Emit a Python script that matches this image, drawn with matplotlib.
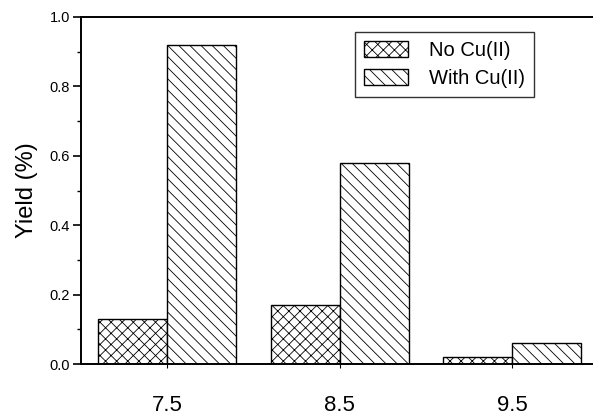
import matplotlib.pyplot as plt
from matplotlib.ticker import MultipleLocator

# yield at each pH, with and without copper
ph = [7.5, 8.5, 9.5]
no_cu = [0.13, 0.17, 0.02]
with_cu = [0.92, 0.58, 0.06]
labels = ['No Cu(II)', 'With Cu(II)']

plt.rcParams['font.family'] = ['Liberation Sans', 'DejaVu Sans']
plt.rcParams['hatch.linewidth'] = 0.6

fig = plt.figure(figsize=(5.93, 4.2), dpi=100)
ax = fig.add_axes([81 / 593, 56 / 420, 1 - 81 / 593, 347 / 420])

w = 0.4
ax.bar([p - w / 2 for p in ph], no_cu, width=w, color='white', edgecolor='black',
       hatch='xxx', linewidth=1.0, label=labels[0])
ax.bar([p + w / 2 for p in ph], with_cu, width=w, color='white', edgecolor='black',
       hatch='\\\\\\', linewidth=1.0, label=labels[1])

ax.set_xlim(7.0, 9.97)
ax.set_ylim(0, 1.0)
ax.set_xticks(ph)
ax.set_xticklabels([str(p) for p in ph], fontsize=16)
ax.tick_params(axis='x', direction='out', length=3, pad=19)
ax.yaxis.set_major_locator(MultipleLocator(0.2))
ax.yaxis.set_minor_locator(MultipleLocator(0.1))
ax.yaxis.set_major_formatter(plt.FormatStrFormatter('%.1f'))
ax.tick_params(axis='y', which='major', direction='out', length=6, width=1.2, labelsize=10.5, pad=2)
ax.tick_params(axis='y', which='minor', direction='out', length=3, width=1.0)
ax.set_ylabel('Yield (%)', fontsize=17, labelpad=8)

for s in ['left', 'top', 'bottom']:
    ax.spines[s].set_linewidth(1.4)
ax.spines['right'].set_visible(False)

leg = ax.legend(loc='upper left', bbox_to_anchor=(355 / 593, 1 - 32 / 420),
                bbox_transform=fig.transFigure, fontsize=14.5, frameon=True,
                fancybox=False, handlelength=2.2, handleheight=0.85,
                borderpad=0.45, labelspacing=0.45, handletextpad=1.0, borderaxespad=0)
leg.get_frame().set_edgecolor('black')
leg.get_frame().set_linewidth(1.0)

fig.savefig('out.png', dpi=100)
